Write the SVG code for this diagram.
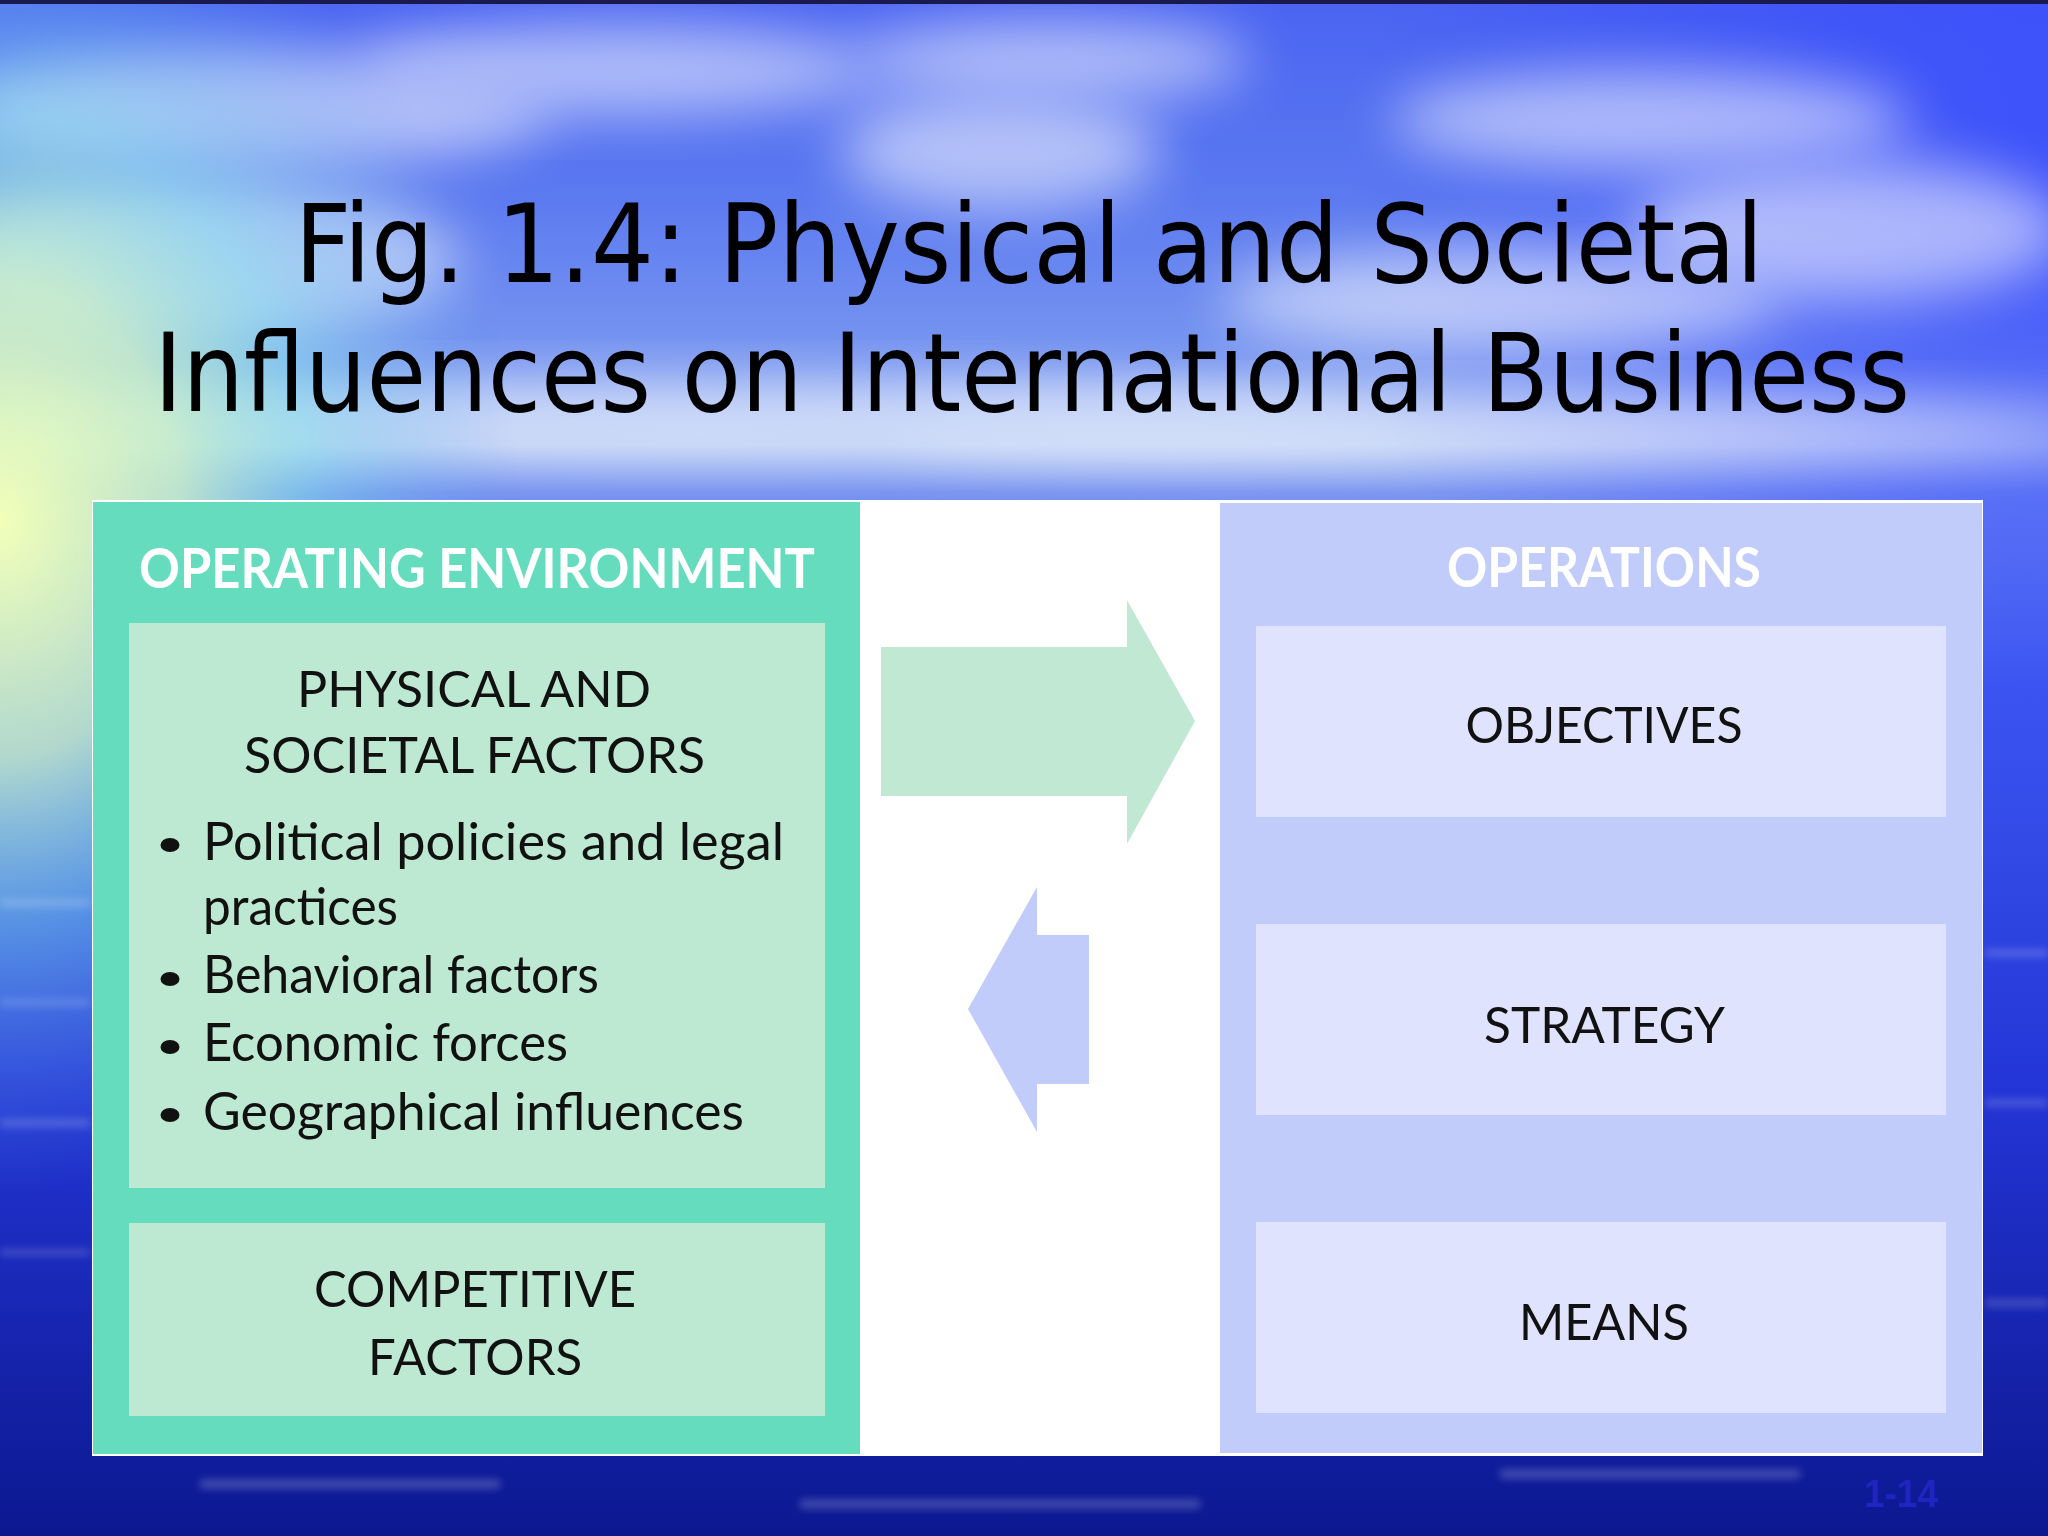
<svg xmlns="http://www.w3.org/2000/svg" width="2048" height="1536" viewBox="0 0 2048 1536">
<defs>
  <linearGradient id="bg" x1="0" y1="0" x2="0" y2="1">
    <stop offset="0" stop-color="#4a64f2"/>
    <stop offset="0.12" stop-color="#5a78f0"/>
    <stop offset="0.24" stop-color="#7a98f0"/>
    <stop offset="0.29" stop-color="#a8c0f2"/>
    <stop offset="0.32" stop-color="#7490f0"/>
    <stop offset="0.45" stop-color="#3c58ee"/>
    <stop offset="0.7" stop-color="#2436d8"/>
    <stop offset="1" stop-color="#0c1890"/>
  </linearGradient>
  <radialGradient id="sun" cx="0" cy="520" r="520" gradientUnits="userSpaceOnUse" gradientTransform="translate(0,520) scale(1,1.3) translate(0,-520)">
    <stop offset="0" stop-color="#f2ffb8" stop-opacity="1"/>
    <stop offset="0.35" stop-color="#c8f0c8" stop-opacity="0.85"/>
    <stop offset="0.6" stop-color="#80e0e8" stop-opacity="0.5"/>
    <stop offset="1" stop-color="#60a0f0" stop-opacity="0"/>
  </radialGradient>
  <radialGradient id="rightdark" cx="2048" cy="200" r="700" gradientUnits="userSpaceOnUse">
    <stop offset="0" stop-color="#3040ff" stop-opacity="0.7"/>
    <stop offset="1" stop-color="#3040ff" stop-opacity="0"/>
  </radialGradient>
  <filter id="blur" x="-50%" y="-50%" width="200%" height="200%">
    <feGaussianBlur stdDeviation="28"/>
  </filter>
  <filter id="blur2" x="-50%" y="-50%" width="200%" height="200%">
    <feGaussianBlur stdDeviation="4"/>
  </filter>
  <style>
    .title { font-family: "DejaVu Sans Condensed", "DejaVu Sans", sans-serif; font-size: 108px; fill: #000; }
    .hdr { font-family: Lato, "Open Sans", sans-serif; font-size: 55px; font-weight: bold; fill: #ffffff; }
    .lbl { font-family: Lato, "Open Sans", sans-serif; font-size: 51px; fill: #111111; }
    .bul { font-family: Lato, "Open Sans", sans-serif; font-size: 53px; fill: #111111; }
    .green-panel { fill: #66dcbf; }
    .green-box { fill: #bde8d2; }
    .blue-panel { fill: #c2ccfb; }
    .blue-box { fill: #dfe3fd; }
    .cloud { fill: #ffffff; filter: url(#blur); }
  </style>
</defs>

<!-- background -->
<rect x="0" y="0" width="2048" height="1536" fill="url(#bg)"/>
<rect x="0" y="0" width="2048" height="1536" fill="url(#rightdark)"/>
<g opacity="0.55">
  <ellipse class="cloud" cx="250" cy="110" rx="300" ry="60"/>
  <ellipse class="cloud" cx="620" cy="70" rx="260" ry="45"/>
  <ellipse class="cloud" cx="1050" cy="60" rx="200" ry="40"/>
  <ellipse class="cloud" cx="1000" cy="150" rx="160" ry="60"/>
  <ellipse class="cloud" cx="200" cy="260" rx="260" ry="80"/>
  <ellipse class="cloud" cx="1650" cy="120" rx="260" ry="50"/>
  <ellipse class="cloud" cx="1850" cy="230" rx="220" ry="70"/>
  <ellipse class="cloud" cx="1500" cy="300" rx="280" ry="50"/>
  <ellipse class="cloud" cx="700" cy="420" rx="700" ry="40"/>
  <ellipse class="cloud" cx="1500" cy="430" rx="600" ry="35"/>
</g>
<rect x="0" y="0" width="2048" height="1536" fill="url(#sun)"/>
<g opacity="0.25" fill="#ffffff" filter="url(#blur2)">
  <rect x="0" y="900" width="90" height="6"/>
  <rect x="0" y="1000" width="90" height="5"/>
  <rect x="0" y="1120" width="90" height="6"/>
  <rect x="0" y="1250" width="90" height="5"/>
  <rect x="1985" y="950" width="63" height="6"/>
  <rect x="1985" y="1100" width="63" height="6"/>
  <rect x="1985" y="1300" width="63" height="6"/>
  <rect x="200" y="1480" width="300" height="8"/>
  <rect x="800" y="1500" width="400" height="8"/>
  <rect x="1500" y="1470" width="300" height="8"/>
</g>
<rect x="0" y="0" width="2048" height="4" fill="#1a1a50"/>

<!-- title -->
<g id="title">
  <text class="title" x="1029" y="282" text-anchor="middle" textLength="1469" lengthAdjust="spacingAndGlyphs">Fig. 1.4:  Physical and Societal</text>
  <text class="title" x="1032" y="411" text-anchor="middle" textLength="1756" lengthAdjust="spacingAndGlyphs">Influences on International Business</text>
</g>

<!-- diagram frame -->
<rect x="92" y="500" width="1891" height="956" fill="#ffffff"/>

<g id="operating-environment">
  <rect class="green-panel" x="93" y="502" width="767" height="952"/>
  <text class="hdr" x="477" y="588" text-anchor="middle" textLength="676" lengthAdjust="spacingAndGlyphs">OPERATING ENVIRONMENT</text>
</g>

<g id="physical-societal-factors">
  <rect class="green-box" x="129" y="623" width="696" height="565"/>
  <text class="lbl" x="474" y="707" text-anchor="middle" textLength="354" lengthAdjust="spacingAndGlyphs">PHYSICAL AND</text>
  <text class="lbl" x="474.5" y="773" text-anchor="middle" textLength="461" lengthAdjust="spacingAndGlyphs">SOCIETAL FACTORS</text>
  <ellipse cx="170" cy="845" rx="9.5" ry="7" fill="#111"/>
  <text class="bul" x="203" y="860" textLength="581" lengthAdjust="spacingAndGlyphs">Political policies and legal</text>
  <text class="bul" x="203" y="925" textLength="195" lengthAdjust="spacingAndGlyphs">practices</text>
  <ellipse cx="170" cy="979" rx="9.5" ry="7" fill="#111"/>
  <text class="bul" x="203" y="993" textLength="396" lengthAdjust="spacingAndGlyphs">Behavioral factors</text>
  <ellipse cx="170" cy="1047" rx="9.5" ry="7" fill="#111"/>
  <text class="bul" x="203" y="1061" textLength="365" lengthAdjust="spacingAndGlyphs">Economic forces</text>
  <ellipse cx="170" cy="1115" rx="9.5" ry="7" fill="#111"/>
  <text class="bul" x="203" y="1130" textLength="541" lengthAdjust="spacingAndGlyphs">Geographical influences</text>
</g>

<g id="competitive-factors">
  <rect class="green-box" x="129" y="1223" width="696" height="193"/>
  <text class="lbl" x="475" y="1307" text-anchor="middle" textLength="322" lengthAdjust="spacingAndGlyphs">COMPETITIVE</text>
  <text class="lbl" x="475" y="1375" text-anchor="middle" textLength="214" lengthAdjust="spacingAndGlyphs">FACTORS</text>
</g>

<g id="operations">
  <rect class="blue-panel" x="1220" y="503" width="762" height="950"/>
  <text class="hdr" x="1604" y="587" text-anchor="middle" textLength="314" lengthAdjust="spacingAndGlyphs">OPERATIONS</text>
</g>

<g id="objectives">
  <rect class="blue-box" x="1256" y="626" width="690" height="191"/>
  <text class="lbl" x="1604" y="743" text-anchor="middle" textLength="277" lengthAdjust="spacingAndGlyphs">OBJECTIVES</text>
</g>

<g id="strategy">
  <rect class="blue-box" x="1256" y="924" width="690" height="191"/>
  <text class="lbl" x="1604.5" y="1043" text-anchor="middle" textLength="241" lengthAdjust="spacingAndGlyphs">STRATEGY</text>
</g>

<g id="means">
  <rect class="blue-box" x="1256" y="1222" width="690" height="191"/>
  <text class="lbl" x="1604" y="1340" text-anchor="middle" textLength="170" lengthAdjust="spacingAndGlyphs">MEANS</text>
</g>

<g id="connectors">
  <path d="M881,647 L1127,647 L1127,600 L1195,721 L1127,844 L1127,796 L881,796 Z" fill="#c0e8d2"/>
  <path d="M1089,935 L1037,935 L1037,887 L968,1009 L1037,1132 L1037,1084 L1089,1084 Z" fill="#c2ccfb"/>
</g>

<text x="1938" y="1507" text-anchor="end" font-family="Liberation Sans, Arial, sans-serif" font-size="38" font-weight="bold" fill="#2024c0" textLength="74" lengthAdjust="spacingAndGlyphs">1-14</text>
</svg>
